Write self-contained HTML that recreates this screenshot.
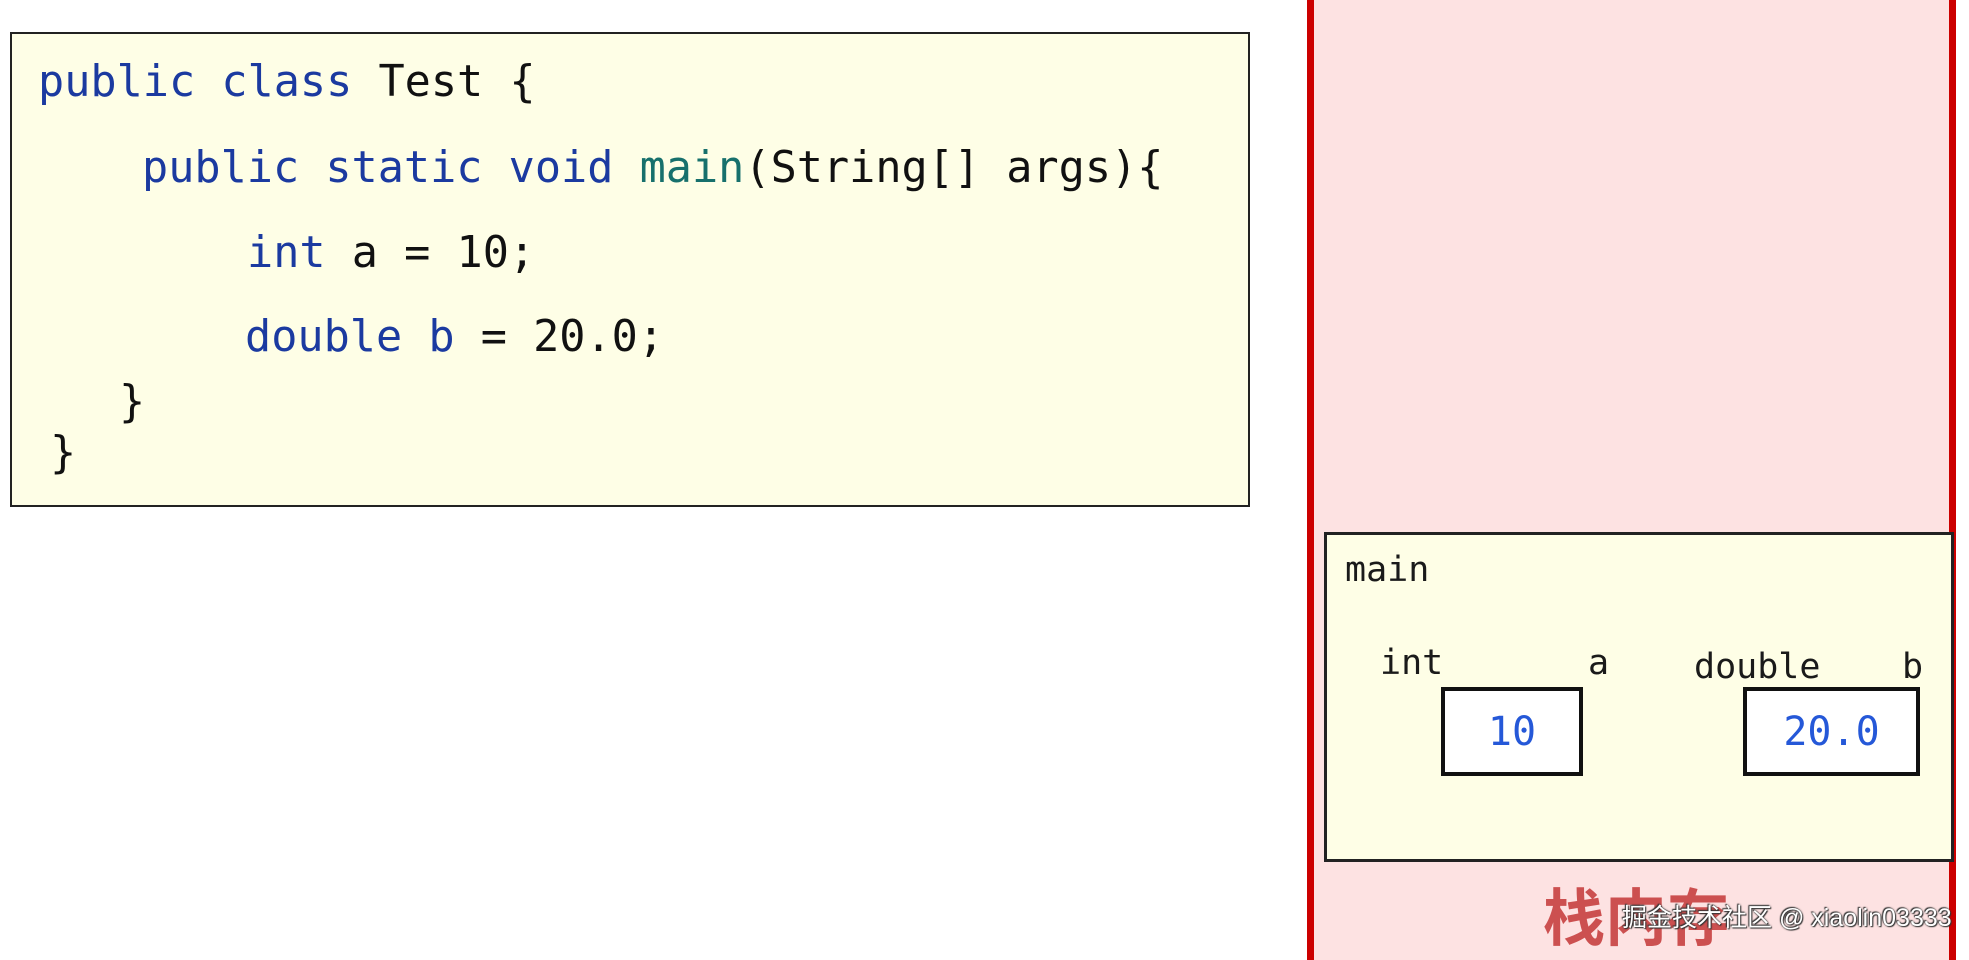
<!DOCTYPE html>
<html><head><meta charset="utf-8"><style>
html,body{margin:0;padding:0;width:1969px;height:960px;overflow:hidden;background:#fff;position:relative}
.mono{font-family:"DejaVu Sans Mono","Liberation Mono",monospace}
#code{position:absolute;left:10px;top:32px;width:1236px;height:471px;border:2px solid #222;background:#fefee6}
.l{position:absolute;font-size:43.5px;color:#111;white-space:pre;line-height:1}
.k{color:#1b3aa0}.m{color:#17706c}
#mainbox{position:absolute;left:1324px;top:532px;width:630px;height:330px;border:3px solid #222;background:#fefee6;box-sizing:border-box}
.t{position:absolute;font-size:35px;color:#1a1a1a;white-space:pre;line-height:1}
.v{position:absolute;border:4px solid #111;background:#fff;box-sizing:border-box;font-size:40px;color:#2558d8;display:flex;align-items:center;justify-content:center}
</style></head><body>
<div id="code" class="mono">
<div class="l" style="left:26px;top:27px"><span class="k">public class</span> Test {</div>
<div class="l" style="left:130px;top:113px"><span class="k">public static void</span> <span class="m">main</span>(String[] args){</div>
<div class="l" style="left:235px;top:198px"><span class="k">int</span> a = 10;</div>
<div class="l" style="left:233px;top:282px"><span class="k">double b</span> = 20.0;</div>
<div class="l" style="left:107px;top:347px">}</div>
<div class="l" style="left:38px;top:398px">}</div>
</div>
<div style="position:absolute;left:1307px;top:0;width:7px;height:960px;background:#c00"></div>
<div style="position:absolute;left:1314px;top:0;width:635px;height:960px;background:#fde2e2"></div>
<div style="position:absolute;left:1949px;top:0;width:7px;height:960px;background:#c00"></div>
<div id="mainbox"></div>
<div class="t mono" style="left:1345px;top:553px">main</div>
<div class="t mono" style="left:1380px;top:646px">int</div>
<div class="t mono" style="left:1588px;top:646px">a</div>
<div class="t mono" style="left:1694px;top:650px">double</div>
<div class="t mono" style="left:1902px;top:650px">b</div>
<div class="v mono" style="left:1441px;top:687px;width:142px;height:89px">10</div>
<div class="v mono" style="left:1743px;top:687px;width:177px;height:89px">20.0</div>
<div style="position:absolute;left:1543px;top:882px;font-size:62px;font-weight:bold;color:#cc5050;font-family:'Noto Sans CJK SC',sans-serif;line-height:1">栈内存</div>
<div style="position:absolute;left:1622px;top:906px;font-size:25px;color:#fff;font-family:'Liberation Sans','Noto Sans CJK SC',sans-serif;line-height:1;white-space:nowrap;text-shadow:0 0 2px #333,1px 1px 1px #333,-1px -1px 1px #333">掘金技术社区 @ xiaolin03333</div>
</body></html>
